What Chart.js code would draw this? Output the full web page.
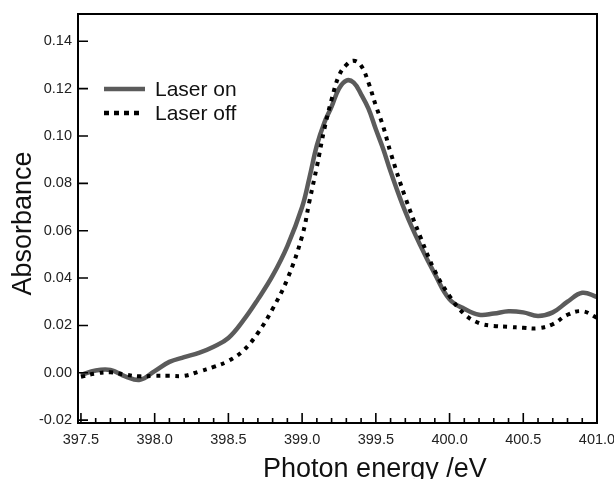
<!DOCTYPE html>
<html>
<head>
<meta charset="utf-8">
<script src="https://cdn.jsdelivr.net/npm/chart.js@4.4.1/dist/chart.umd.min.js"></script>
<style>
  html, body { margin: 0; padding: 0; background: #fff; }
  #wrap { width: 614px; height: 479px; }
</style>
</head>
<body>
<div id="wrap"><canvas id="chart" width="614" height="479"></canvas></div>
<script>
// photon energy (eV)
const energy = [397.5, 397.6, 397.7, 397.8, 397.9, 398.0, 398.1, 398.2, 398.3, 398.4,
  398.5, 398.6, 398.7, 398.8, 398.9, 399.0, 399.05, 399.1, 399.15, 399.2,
  399.25, 399.3, 399.35, 399.4, 399.45, 399.5, 399.55, 399.6, 399.7, 399.8,
  399.9, 400.0, 400.1, 400.2, 400.3, 400.4, 400.5, 400.6, 400.7, 400.8,
  400.9, 401.0];

const laserOn = [-0.001, 0.001, 0.0012, -0.0015, -0.003, 0.0007, 0.0046, 0.0066, 0.0084, 0.011,
  0.0147, 0.022, 0.031, 0.041, 0.0535, 0.070, 0.0825, 0.096, 0.1055, 0.1124,
  0.120, 0.1234, 0.1225, 0.1176, 0.1115, 0.1028, 0.0945, 0.085, 0.068, 0.054,
  0.0417, 0.031, 0.027, 0.0245, 0.025, 0.026, 0.0255, 0.024, 0.0255, 0.030,
  0.0338, 0.032];

const laserOff = [-0.0017, -0.0003, 0.0002, -0.0008, -0.0015, -0.0013, -0.0013, -0.0013, 0.0005, 0.0025,
  0.005, 0.0093, 0.0168, 0.027, 0.0396, 0.0577, 0.0725, 0.087, 0.1027, 0.1154,
  0.1255, 0.130, 0.1318, 0.1297, 0.1225, 0.1128, 0.104, 0.093, 0.074, 0.0577,
  0.043, 0.0324, 0.0248, 0.021, 0.0198, 0.0194, 0.019, 0.0188, 0.0205, 0.0245,
  0.026, 0.0232];

const xTickValues = [397.5, 398.0, 398.5, 399.0, 399.5, 400.0, 400.5, 401.0];
const yTickValues = [-0.02, 0.00, 0.02, 0.04, 0.06, 0.08, 0.10, 0.12, 0.14];

const seriesNames = ["Laser on", "Laser off"];
const colorOn = "#5b5b5b";
const colorOff = "#000";
const offDash = [4, 5.5];

const FONT = "'Liberation Sans', Arial, sans-serif";

const toPoints = (ys) => energy.map((x, i) => ({ x: x, y: ys[i] }));

// frame, inward ticks, axis titles and legend
const decorations = {
  id: "decorations",
  afterDraw(chart) {
    const ctx = chart.ctx;
    const a = chart.chartArea;
    const xs = chart.scales.x;
    const ys = chart.scales.y;

    ctx.save();
    ctx.strokeStyle = "#000";
    ctx.lineWidth = 2;
    ctx.strokeRect(a.left, a.top, a.right - a.left, a.bottom - a.top);

    ctx.lineWidth = 1.6;
    ctx.beginPath();
    yTickValues.forEach(v => {
      const py = ys.getPixelForValue(v);
      ctx.moveTo(a.left, py);
      ctx.lineTo(a.left + 10, py);
    });
    // x ticks: major every 0.5, minor every 0.1
    for (let i = 0; i <= 35; i++) {
      const v = 397.5 + i * 0.1;
      const px = xs.getPixelForValue(v);
      const len = (i % 5 === 0) ? 10 : 5;
      ctx.moveTo(px, a.bottom);
      ctx.lineTo(px, a.bottom - len);
    }
    ctx.stroke();

    // axis titles
    ctx.fillStyle = "#111";
    ctx.font = "27px " + FONT;
    ctx.textAlign = "center";
    ctx.textBaseline = "alphabetic";
    ctx.fillText("Photon energy /eV", a.left + (a.right - a.left) * 0.572, 477);

    ctx.save();
    ctx.translate(31, (a.top + a.bottom) / 2 + 5);
    ctx.rotate(-Math.PI / 2);
    ctx.fillText("Absorbance", 0, 0);
    ctx.restore();

    // legend
    ctx.lineWidth = 4.5;
    ctx.strokeStyle = colorOn;
    ctx.beginPath();
    ctx.moveTo(104, 89);
    ctx.lineTo(145, 89);
    ctx.stroke();

    ctx.lineWidth = 4.5;
    ctx.strokeStyle = colorOff;
    ctx.setLineDash([5, 5]);
    ctx.beginPath();
    ctx.moveTo(104, 113);
    ctx.lineTo(140, 113);
    ctx.stroke();
    ctx.setLineDash([]);

    ctx.font = "21px " + FONT;
    ctx.textAlign = "left";
    ctx.textBaseline = "middle";
    ctx.fillText(seriesNames[0], 155, 90);
    ctx.fillText(seriesNames[1], 155, 114);
    ctx.restore();
  }
};

new Chart(document.getElementById("chart").getContext("2d"), {
  type: "line",
  data: {
    datasets: [{
      label: seriesNames[0],
      data: toPoints(laserOn),
      borderColor: colorOn,
      borderWidth: 4.5,
      pointRadius: 0,
      tension: 0.4,
      order: 1
    }, {
      label: seriesNames[1],
      data: toPoints(laserOff),
      borderColor: colorOff,
      borderWidth: 4,
      borderDash: offDash,
      borderCapStyle: "butt",
      pointRadius: 0,
      tension: 0.4,
      order: 0
    }]
  },
  options: {
    responsive: false,
    animation: false,
    layout: { padding: { top: 14, right: 17, left: 0, bottom: 0 } },
    plugins: {
      legend: { display: false },
      tooltip: { enabled: false }
    },
    scales: {
      x: {
        type: "linear",
        min: 397.48,
        max: 401.0,
        grid: { display: false, drawTicks: false },
        border: { display: false },
        afterFit: (scale) => {
          scale.height = 56;
          scale.paddingLeft = 0;
          scale.paddingRight = 0;
        },
        afterBuildTicks: (scale) => { scale.ticks = xTickValues.map(v => ({ value: v })); },
        ticks: {
          padding: 8,
          color: "#222",
          font: { family: FONT, size: 14.5 },
          maxRotation: 0,
          autoSkip: false,
          callback: (v) => Number(v).toFixed(1)
        }
      },
      y: {
        type: "linear",
        min: -0.0212,
        max: 0.1515,
        grid: { display: false, drawTicks: false },
        border: { display: false },
        afterFit: (scale) => {
          scale.width = 78;
          scale.paddingTop = 0;
          scale.paddingBottom = 0;
        },
        afterBuildTicks: (scale) => { scale.ticks = yTickValues.map(v => ({ value: v })); },
        ticks: {
          padding: 6,
          color: "#222",
          font: { family: FONT, size: 14.5 },
          autoSkip: false,
          callback: (v) => Number(v).toFixed(2)
        }
      }
    }
  },
  plugins: [decorations]
});
</script>
</body>
</html>
